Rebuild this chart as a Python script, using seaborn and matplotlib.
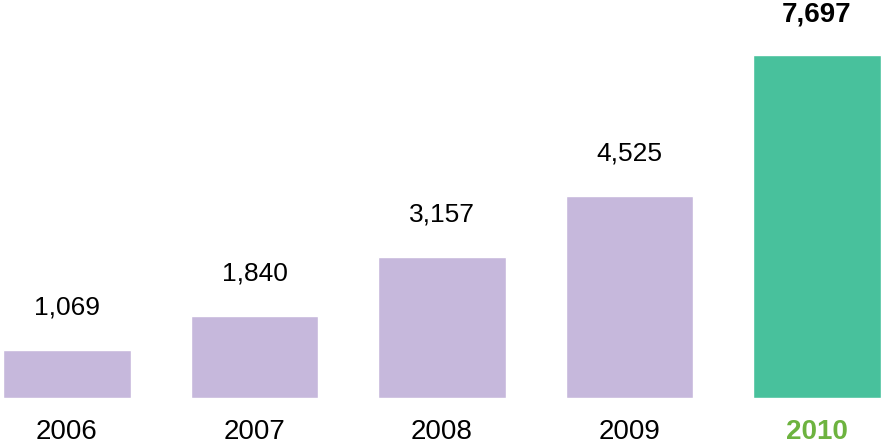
import matplotlib
matplotlib.use("Agg")
import matplotlib.pyplot as plt
import seaborn as sns
import pandas as pd

# data
years = ["2006", "2007", "2008", "2009", "2010"]
values = [1069, 1840, 3157, 4525, 7697]
bar_colors = ["#c6b8dc", "#c6b8dc", "#c6b8dc", "#c6b8dc", "#48c19c"]

sns.set_style("white")
plt.rcParams["font.family"] = ["Liberation Sans", "DejaVu Sans"]

df = pd.DataFrame({"year": years, "value": values})

fig = plt.figure(figsize=(8.83, 4.45), dpi=100)
ax = fig.add_axes([0, 47 / 445, 1, 398 / 445])

sns.barplot(data=df, x="year", y="value", hue="year", palette=bar_colors,
            width=0.68, legend=False, saturation=1, ax=ax)

ax.set_xlim(-0.357, 4.352)
ax.set_ylim(0, 8930)

# value labels above bars
for i, v in enumerate(values):
    last = i == len(values) - 1
    ax.annotate(f"{v:,}", (i, v), xytext=(0, 20 if last else 22),
                textcoords="offset points", ha="center", va="bottom",
                fontsize=20 if last else 19,
                fontweight="bold" if last else "normal", color="black")

ax.set_xlabel("")
ax.set_ylabel("")
ax.set_yticks([])
ax.tick_params(axis="x", length=0, pad=15, labelsize=20)
for i, lab in enumerate(ax.get_xticklabels()):
    if i == len(years) - 1:
        lab.set_color("#6db33f")
        lab.set_fontweight("bold")
    else:
        lab.set_color("black")

sns.despine(left=True, bottom=True)

fig.savefig("out.png", dpi=100)
